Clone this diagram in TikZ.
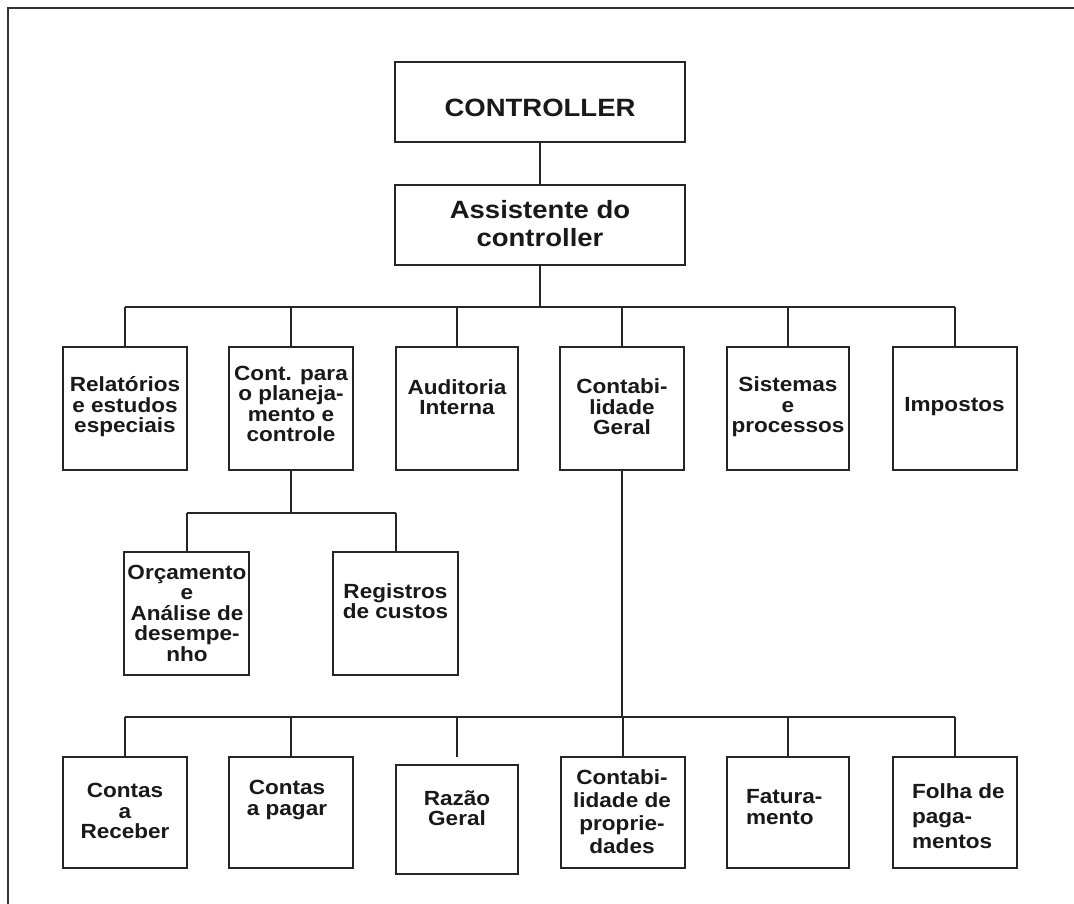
\documentclass[tikz,border=0pt]{standalone}
\usepackage{fontspec}
\newfontfamily\fs{Liberation Sans Bold}[FakeStretch=1.1]
\begin{document}
\begin{tikzpicture}[x=1pt,y=-1pt,
  line width=2pt,
  link/.style={draw=black!85, line width=2pt},
  box/.style={draw=black!85, line width=2pt, rectangle, inner sep=0pt, fill=white},
  big/.style={font=\fs\fontsize{25}{28}\selectfont, align=center, inner sep=0pt, text=black!90},
  lbl/.style={font=\fs\fontsize{20.5}{20.5}\selectfont, align=center, inner sep=0pt, text=black!90},
  unit/.style={box, minimum width=124pt, minimum height=123pt},
  leaf/.style={box, minimum width=124pt, minimum height=111pt}]
\useasboundingbox (0,0) rectangle (1074,904);
% outer frame (open to the right and bottom)
\draw[line width=2.2pt, black!80] (8,920) -- (8,8) -- (1090,8);

% top of the hierarchy
\node[box, minimum width=290pt, minimum height=80pt] (ctrl) at (540,102) {};
\node[big] (ctrlT) at (540,108) {CONTROLLER};
\node[box, minimum width=290pt, minimum height=80pt] (asst) at (540,225) {};
\node[big] (asstT) at (540,224) {Assistente do\\controller};

% first level units
\node[unit] (rel) at (125,408.5) {};
\node[unit] (cpc) at (291,408.5) {};
\node[unit, minimum width=122pt] (aud) at (457,408.5) {};
\node[unit] (cg)  at (622,408.5) {};
\node[unit, minimum width=122pt] (sis) at (788,408.5) {};
\node[unit] (imp) at (954.5,408.5) {};

\node[lbl] (relT) at (125,407) {Relatórios\\e estudos\\especiais};
\node[lbl] (cpcT) at (291,404) {Cont. para\\o planeja-\\mento e\\controle};
\node[lbl] (audT) at (457,397) {Auditoria\\Interna};
\node[lbl] (cgT)  at (622,407) {Contabi-\\lidade\\Geral};
\node[lbl] (sisT) at (788,407) {Sistemas\\e\\processos};
\node[lbl] (impT) at (954.5,407) {Impostos};

% planning sub-units
\node[unit, minimum width=125pt] (orc) at (186.5,613.5) {};
\node[unit, minimum width=125pt] (reg) at (395.5,613.5) {};
\node[lbl] (orcT) at (187,613) {Orçamento\\e\\Análise de\\desempe-\\nho};
\node[lbl] (regT) at (395.5,601) {Registros\\de custos};

% general accounting sub-units
\node[leaf] (crec) at (124.5,812) {};
\node[leaf] (cpag) at (290.5,812) {};
\node[box, minimum width=122pt, minimum height=109pt] (raz) at (457,819.5) {};
\node[leaf] (cprop) at (622.5,812.5) {};
\node[leaf, minimum width=122pt] (fat) at (788,812.5) {};
\node[leaf] (folha) at (954.5,812) {};

\node[lbl] (crecT) at (125,811) {Contas\\a\\Receber};
\node[lbl] (cpagT) at (287,800) {Contas\\a pagar};
\node[lbl] (razT) at (457,808) {Razão\\Geral};
\node[lbl, font=\fs\fontsize{20.5}{23}\selectfont] (cpropT) at (622,812) {Contabi-\\lidade de\\proprie-\\dades};
\node[lbl, align=left, anchor=west] (fatT) at (745,807) {Fatura-\\mento};
\node[lbl, align=left, anchor=west, font=\fs\fontsize{20.5}{25}\selectfont] (folhaT) at (911,816) {Folha de\\paga-\\mentos};

% bus junctions
\coordinate (b1) at (540,307);
\coordinate (b2) at (291,513);
\coordinate (b3) at (622,717);
\coordinate (razTop) at (457,757);

% connectors
\draw[link] (ctrl) -- (asst);
\draw[link] (asst.south) -- (b1);
\draw[link] (rel.north |- b1) -- (imp.north |- b1);
\foreach \n in {rel,cpc,aud,cg,sis,imp} \draw[link] (\n.north |- b1) -- (\n.north);

\draw[link] (cpc.south) -- (b2);
\draw[link] (orc.north |- b2) -- (reg.north |- b2);
\foreach \n in {orc,reg} \draw[link] (\n.north |- b2) -- (\n.north);

\draw[link] (cg.south) -- (b3);
\draw[link] (crec.north |- b3) -- (folha.north |- b3);
\foreach \n in {crec,cpag,cprop,fat,folha} \draw[link] (\n.north |- b3) -- (\n.north);
\draw[link] (razTop |- b3) -- (razTop);
\end{tikzpicture}
\end{document}
